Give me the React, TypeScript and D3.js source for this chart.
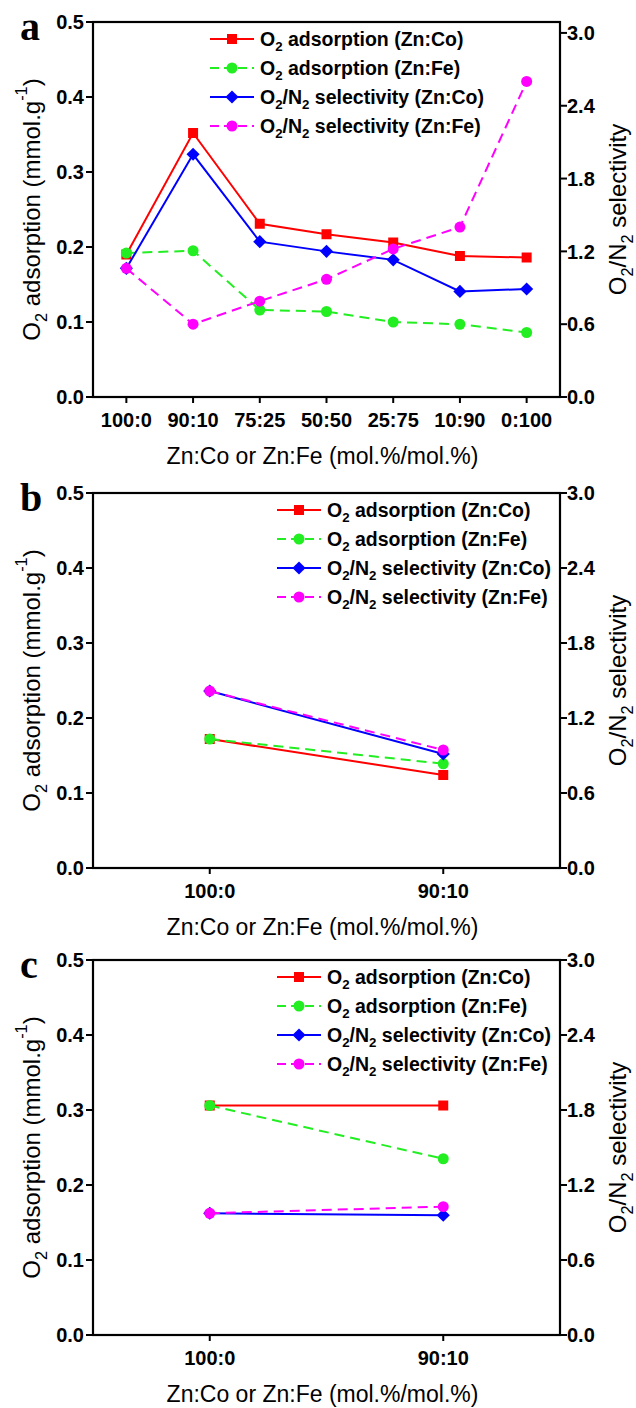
import * as d3 from "d3";

// categories
const catsA = ["100:0", "90:10", "75:25", "50:50", "25:75", "10:90", "0:100"];
const catsBC = ["100:0", "90:10"];

// panel a
const adsCoA = [0.19, 0.352, 0.231, 0.217, 0.206, 0.188, 0.186];
const adsFeA = [0.192, 0.195, 0.116, 0.114, 0.1, 0.097, 0.086];
const selCoA = [1.06, 2.0, 1.28, 1.2, 1.13, 0.87, 0.89];
const selFeA = [1.06, 0.6, 0.79, 0.97, 1.22, 1.4, 2.6];

// panel b
const adsCoB = [0.172, 0.124];
const adsFeB = [0.172, 0.139];
const selCoB = [1.416, 0.912];
const selFeB = [1.416, 0.944];

// panel c
const adsCoC = [0.306, 0.306];
const adsFeC = [0.306, 0.235];
const selCoC = [0.974, 0.958];
const selFeC = [0.974, 1.027];

const leftTicks = [0, 0.1, 0.2, 0.3, 0.4, 0.5];
const rightTicks = [0, 0.6, 1.2, 1.8, 2.4, 3.0];

const W = 636;
const H = 1408;
const LEFT = 93;
const RIGHT = 560;
const SANS = "'Liberation Sans', Arial, sans-serif";

// text pieces: [text, kind] kind: "" normal, "sub", "sup"
const adsLabel = [["O", ""], ["2", "sub"], [" adsorption", ""]];
const selLabel = [["O", ""], ["2", "sub"], ["/N", ""], ["2", "sub"], [" selectivity", ""]];
const yLeftTitle = [["O", ""], ["2", "sub"], [" adsorption (mmol.g", ""], ["-1", "sup"], [")", ""]];
const yRightTitle = [["O", ""], ["2", "sub"], ["/N", ""], ["2", "sub"], [" selectivity", ""]];
const xTitle = "Zn:Co or Zn:Fe (mol.%/mol.%)";

const seriesStyle = [
  { key: "adsCo", axis: "L", color: "#ff0000", dash: null, sym: d3.symbolSquare, size: 100, label: [...adsLabel, [" (Zn:Co)", ""]] },
  { key: "adsFe", axis: "L", color: "#22ee22", dash: "10,6", sym: d3.symbolCircle, size: 95, label: [...adsLabel, [" (Zn:Fe)", ""]] },
  { key: "selCo", axis: "R", color: "#0000ff", dash: null, sym: d3.symbolDiamond2, size: 110, label: [...selLabel, [" (Zn:Co)", ""]] },
  { key: "selFe", axis: "R", color: "#ff00ff", dash: "10,6", sym: d3.symbolCircle, size: 95, label: [...selLabel, [" (Zn:Fe)", ""]] },
];

function Rich({ parts, base }) {
  // each tspan carries its own dy so the baseline returns after sub/sup
  let shift = 0;
  return (
    <>
      {parts.map(([t, kind], i) => {
        const target = kind === "sub" ? 0.3 * base : kind === "sup" ? -0.55 * base : 0;
        const dy = target - shift;
        shift = target;
        return (
          <tspan key={i} dy={dy || undefined} fontSize={kind ? base * 0.68 : base}>
            {t}
          </tspan>
        );
      })}
    </>
  );
}

function Panel({ letter, cats, data, top, bottom, rightMax, legendX }) {
  const x = d3.scalePoint().domain(cats).range([LEFT, RIGHT]).padding(0.5);
  const yL = d3.scaleLinear().domain([0, 0.5]).range([bottom, top]);
  const yR = d3.scaleLinear().domain([0, rightMax]).range([bottom, top]);
  const legendRows = [17, 46, 75, 104];

  return (
    <g>
      <text x={20} y={top + 18} fontFamily="'Liberation Serif', 'Times New Roman', serif" fontWeight="bold" fontSize={40}>
        {letter}
      </text>
      {/* series */}
      {seriesStyle.map((s) => {
        const y = s.axis === "L" ? yL : yR;
        const vals = data[s.key];
        const line = d3.line<number>().x((_, i) => x(cats[i])).y((d) => y(d));
        const sym = d3.symbol().type(s.sym).size(s.size)();
        return (
          <g key={s.key}>
            <path d={line(vals)} fill="none" stroke={s.color} strokeWidth={2} strokeDasharray={s.dash || undefined} />
            {vals.map((v, i) => (
              <path key={i} d={sym} fill={s.color} transform={`translate(${x(cats[i])},${y(v)})`} />
            ))}
          </g>
        );
      })}
      {/* frame */}
      <rect x={LEFT} y={top} width={RIGHT - LEFT} height={bottom - top} fill="none" stroke="#000" strokeWidth={2.2} />
      {/* left axis */}
      {leftTicks.map((t) => (
        <g key={"l" + t}>
          <line x1={LEFT - 7} x2={LEFT} y1={yL(t)} y2={yL(t)} stroke="#000" strokeWidth={2} />
          <text x={LEFT - 9} y={yL(t)} dy="0.36em" textAnchor="end" fontFamily={SANS} fontWeight="bold" fontSize={20}>
            {t.toFixed(1)}
          </text>
        </g>
      ))}
      {/* right axis */}
      {rightTicks.map((t) => (
        <g key={"r" + t}>
          <line x1={RIGHT} x2={RIGHT + 7} y1={yR(t)} y2={yR(t)} stroke="#000" strokeWidth={2} />
          <text x={RIGHT + 7} y={yR(t)} dy="0.36em" textAnchor="start" fontFamily={SANS} fontWeight="bold" fontSize={20}>
            {t.toFixed(1)}
          </text>
        </g>
      ))}
      {/* bottom axis */}
      {cats.map((c) => (
        <g key={"x" + c}>
          <line x1={x(c)} x2={x(c)} y1={bottom} y2={bottom + 6} stroke="#000" strokeWidth={2} />
          <text x={x(c)} y={bottom + 23} dy="0.36em" textAnchor="middle" fontFamily={SANS} fontWeight="bold" fontSize={20}>
            {c}
          </text>
        </g>
      ))}
      <text x={(LEFT + RIGHT) / 2 - 4} y={bottom + 59} dy="0.36em" textAnchor="middle" fontFamily={SANS} fontSize={23}>
        {xTitle}
      </text>
      {/* axis titles */}
      <text transform={`translate(40,${(top + bottom) / 2}) rotate(-90)`} textAnchor="middle" fontFamily={SANS} fontSize={24}>
        <Rich parts={yLeftTitle} base={24} />
      </text>
      <text transform={`translate(626,${(top + bottom) / 2}) rotate(-90)`} textAnchor="middle" fontFamily={SANS} fontSize={24}>
        <Rich parts={yRightTitle} base={24} />
      </text>
      {/* legend */}
      {seriesStyle.map((s, i) => {
        const ly = top + legendRows[i];
        const sym = d3.symbol().type(s.sym).size(s.size)();
        return (
          <g key={"lg" + s.key}>
            <line x1={legendX} x2={legendX + 44} y1={ly} y2={ly} stroke={s.color} strokeWidth={2} strokeDasharray={s.dash ? "9,5" : undefined} />
            <path d={sym} fill={s.color} transform={`translate(${legendX + 22},${ly})`} />
            <text x={legendX + 50} y={ly + 6.5} fontFamily={SANS} fontWeight="bold" fontSize={19.5}>
              <Rich parts={s.label} base={19.5} />
            </text>
          </g>
        );
      })}
    </g>
  );
}

export default function App() {
  return (
    <svg width={W} height={H} style={{ position: "absolute", left: 0, top: 0, background: "#fff" }}>
      <Panel
        letter="a"
        cats={catsA}
        data={{ adsCo: adsCoA, adsFe: adsFeA, selCo: selCoA, selFe: selFeA }}
        top={22}
        bottom={397}
        rightMax={3.09}
        legendX={210}
      />
      <Panel
        letter="b"
        cats={catsBC}
        data={{ adsCo: adsCoB, adsFe: adsFeB, selCo: selCoB, selFe: selFeB }}
        top={493}
        bottom={868}
        rightMax={3.0}
        legendX={277}
      />
      <Panel
        letter="c"
        cats={catsBC}
        data={{ adsCo: adsCoC, adsFe: adsFeC, selCo: selCoC, selFe: selFeC }}
        top={960}
        bottom={1335}
        rightMax={3.0}
        legendX={277}
      />
    </svg>
  );
}
